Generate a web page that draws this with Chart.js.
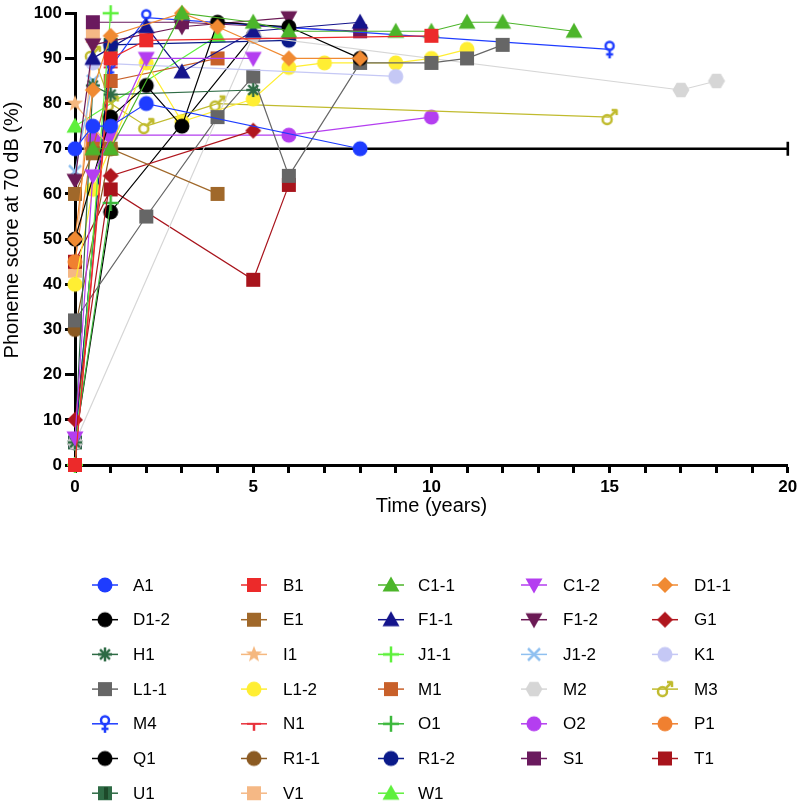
<!DOCTYPE html>
<html>
<head>
<meta charset="utf-8">
<script src="https://cdn.jsdelivr.net/npm/chart.js@4.4.1/dist/chart.umd.min.js"></script>
<style>
  html, body { margin: 0; padding: 0; background: #fff; }
  #wrap { position: relative; width: 797px; height: 807px; }
</style>
</head>
<body>
<div id="wrap"><canvas id="chart" width="797" height="807"></canvas></div>
<script>
// Phoneme score at 70 dB vs time, one line per ear.

const A1   = [[0, 70], [0.5, 75], [1, 75], [2, 80], [8, 70]];
const B1   = [[0, 0], [1, 90], [2, 94], [10, 95]];
const C1_1 = [[0.5, 70], [1, 70], [3, 100], [5, 98], [6, 96], [9, 96], [10, 96], [11, 98], [12, 98], [14, 96]];
const C1_2 = [[0, 6], [0.5, 64], [2, 90], [5, 90]];
const D1_1 = [[0, 50], [0.5, 83], [1, 95], [3, 100], [4, 97], [6, 90], [8, 90]];
const D1_2 = [[0, 50], [1, 77], [2, 84], [3, 75], [4, 98], [6, 97], [8, 90]];
const E1   = [[0, 60], [0.5, 69], [1, 70], [4, 60]];
const F1_1 = [[0.5, 90], [2, 97], [3, 87], [5, 96], [8, 98]];
const F1_2 = [[0, 63], [0.5, 93], [3, 97], [6, 99]];
const G1   = [[0, 10], [1, 64], [5, 74]];
const H1   = [[0, 5], [0.5, 84], [1, 82], [5, 83]];
const I1   = [[0, 80], [1, 70]];
const J1_1 = [[0, 0], [1, 100]];
const J1_2 = [[0, 65], [0.5, 85]];
const K1   = [[0.5, 89], [9, 86]];
const L1_1 = [[0, 32], [2, 55], [4, 77], [5, 86], [6, 64], [8, 89], [10, 89], [11, 90], [12, 93]];
const L1_2 = [[0, 40], [0.5, 61], [2, 89], [3, 76], [5, 81], [6, 88], [7, 89], [9, 89], [10, 90], [11, 92]];
const M1   = [[0.5, 70], [1, 85], [4, 90]];
const M2   = [[0, 5], [5, 95], [17, 83], [18, 85]];
const M3   = [[0.5, 91], [1, 80], [2, 75], [4, 80], [15, 77]];
const M4   = [[1, 88], [2, 99], [15, 92]];
const N1   = [[0, 0], [1, 88]];
const O1   = [[0, 5], [1, 58]];
const O2   = [[0.5, 72], [1, 73], [6, 73], [10, 77]];
const P1   = [[0, 45], [0.5, 72]];
const Q1   = [[0, 5], [1, 56], [5, 95]];
const R1_1 = [[0, 30], [1, 70]];
const R1_2 = [[0, 5], [1, 93], [6, 94]];
const S1   = [[0.5, 98], [3, 98], [8, 96]];
const T1   = [[0, 45], [1, 61], [5, 41], [6, 62]];
const U1   = [[0, 5], [1, 93]];
const V1   = [[0, 43], [0.5, 95]];
const W1   = [[0, 75], [4, 95]];

const NAMES = ["A1", "B1", "C1-1", "C1-2", "D1-1", "D1-2", "E1", "F1-1", "F1-2", "G1",
  "H1", "I1", "J1-1", "J1-2", "K1", "L1-1", "L1-2", "M1", "M2", "M3",
  "M4", "N1", "O1", "O2", "P1", "Q1", "R1-1", "R1-2", "S1", "T1",
  "U1", "V1", "W1"];
const SERIES = [A1, B1, C1_1, C1_2, D1_1, D1_2, E1, F1_1, F1_2, G1,
  H1, I1, J1_1, J1_2, K1, L1_1, L1_2, M1, M2, M3,
  M4, N1, O1, O2, P1, Q1, R1_1, R1_2, S1, T1,
  U1, V1, W1];

const X_TICKS = [0, 5, 10, 15, 20];
const Y_TICKS = [0, 10, 20, 30, 40, 50, 60, 70, 80, 90, 100];
const REF_LEVEL = 70;

// styling, same order as NAMES
const COLORS = ["#1e3cff", "#ec2a2a", "#4cb52a", "#b43ef0", "#f08a32", "#000000", "#a0682a", "#14148c", "#6b1a55", "#b0161e",
  "#2e6b45", "#f5b87f", "#5ef03c", "#8fc0f0", "#c5c8f5", "#666666", "#ffee33", "#c8602a", "#d6d6d6", "#c0bb2e",
  "#1e3cff", "#e8323c", "#3cb83c", "#b43ef0", "#f08030", "#000000", "#8b5a22", "#0a1a8a", "#6a1a5e", "#a8141c",
  "#2e6b45", "#f5b885", "#5ef03c"];
const SHAPES = ["circle", "square", "tri", "tridown", "diamond", "circle", "square", "tri", "tridown", "diamond",
  "asterisk", "star", "plus", "x", "circle", "square", "circle", "square", "hex", "male",
  "female", "tee", "plus", "circle", "circle", "circle", "circle", "circle", "square", "square",
  "usquare", "square", "tri"];

function marker(shape, color) {
  const c = document.createElement("canvas");
  c.width = c.height = 20;
  const g = c.getContext("2d");
  g.translate(10, 10);
  g.fillStyle = color;
  g.strokeStyle = color;
  g.lineWidth = 2.5;
  const poly = (pts) => {
    g.beginPath();
    pts.forEach(([px, py], i) => (i ? g.lineTo(px, py) : g.moveTo(px, py)));
    g.closePath();
    g.fill();
  };
  const seg = (x1, y1, x2, y2) => { g.beginPath(); g.moveTo(x1, y1); g.lineTo(x2, y2); g.stroke(); };
  switch (shape) {
    case "circle": g.beginPath(); g.arc(0, 0, 7.5, 0, Math.PI * 2); g.fill(); break;
    case "square": g.fillRect(-7, -7, 14, 14); break;
    case "usquare":
      g.fillRect(-7, -7, 14, 14);
      g.fillStyle = "#1d4a2a"; g.fillRect(-1, -6, 4, 12); break;
    case "tri": poly([[0, -8.5], [8.5, 6.5], [-8.5, 6.5]]); break;
    case "tridown": poly([[0, 8.5], [8.5, -6.5], [-8.5, -6.5]]); break;
    case "diamond": poly([[0, -8], [8, 0], [0, 8], [-8, 0]]); break;
    case "plus": seg(-8, 0, 8, 0); seg(0, -8, 0, 8); break;
    case "x": seg(-6, -6, 6, 6); seg(6, -6, -6, 6); break;
    case "asterisk":
      for (let k = 0; k < 4; k++) {
        const a = k * Math.PI / 4;
        seg(-7 * Math.cos(a), -7 * Math.sin(a), 7 * Math.cos(a), 7 * Math.sin(a));
      }
      break;
    case "star": {
      const pts = [];
      for (let k = 0; k < 10; k++) {
        const r = k % 2 ? 3.6 : 8.5;
        const a = -Math.PI / 2 + k * Math.PI / 5;
        pts.push([r * Math.cos(a), r * Math.sin(a)]);
      }
      poly(pts); break;
    }
    case "hex": {
      const pts = [];
      for (let k = 0; k < 6; k++) pts.push([8.5 * Math.cos(k * Math.PI / 3), 8.5 * Math.sin(k * Math.PI / 3)]);
      poly(pts); break;
    }
    case "female":
      g.beginPath(); g.arc(0, -3.5, 4, 0, Math.PI * 2); g.stroke();
      seg(0, 0.5, 0, 9); seg(-3.5, 5, 3.5, 5); break;
    case "male":
      g.beginPath(); g.arc(-2.5, 2.5, 4.5, 0, Math.PI * 2); g.stroke();
      seg(0.8, -0.8, 7, -7); seg(7.5, -7, 2, -7); seg(7, -7.5, 7, -2); break;
    case "tee": g.lineWidth = 2; seg(-7, 0, 7, 0); g.lineWidth = 2.5; seg(0, 0, 0, 7); break;
  }
  return c;
}

const MARKERS = SHAPES.map((s, i) => marker(s, COLORS[i]));

const datasets = SERIES.map((pts, i) => ({
  label: NAMES[i],
  data: pts.map(([x, y]) => ({ x, y })),
  showLine: true,
  borderColor: COLORS[i],
  backgroundColor: COLORS[i],
  borderWidth: 1.2,
  pointStyle: MARKERS[i],
  pointRadius: 8,
  pointHoverRadius: 8,
  tension: 0,
  clip: false,
}));

const FONT = '"Liberation Sans", Arial, Helvetica, sans-serif';
Chart.defaults.font.family = FONT;
Chart.defaults.color = "#000";

// legend grid: 5 columns
const LEG_MARK_X = [105, 254, 391, 534, 665];
const LEG_TEXT_X = [133, 283, 418, 563, 694];
const LEG_TOP = 585;
const LEG_STEP = 34.7;

const extras = {
  id: "extras",
  beforeDatasetsDraw(chart) {
    const { ctx, scales: { x, y } } = chart;
    const py = y.getPixelForValue(REF_LEVEL);
    const x0 = x.getPixelForValue(X_TICKS[0]);
    const x1 = x.getPixelForValue(X_TICKS[X_TICKS.length - 1]);
    ctx.save();
    ctx.strokeStyle = "#000";
    ctx.lineWidth = 2.6;
    ctx.beginPath();
    ctx.moveTo(x0, py); ctx.lineTo(x1, py);
    ctx.moveTo(x1, py - 7); ctx.lineTo(x1, py + 7);
    ctx.stroke();
    ctx.restore();
  },
  afterDraw(chart) {
    const { ctx, chartArea } = chart;
    ctx.save();
    ctx.fillStyle = "#000";
    // axis titles
    ctx.font = "20px " + FONT;
    ctx.textAlign = "center";
    ctx.textBaseline = "alphabetic";
    ctx.fillText("Time (years)", (chartArea.left + chartArea.right) / 2, 512);
    ctx.save();
    ctx.translate(18, 230);
    ctx.rotate(-Math.PI / 2);
    ctx.fillText("Phoneme score at 70 dB (%)", 0, 0);
    ctx.restore();

    // legend
    ctx.font = "17px " + FONT;
    ctx.textAlign = "left";
    ctx.textBaseline = "middle";
    NAMES.forEach((name, i) => {
      const col = i % 5, row = Math.floor(i / 5);
      const cx = LEG_MARK_X[col];
      const cy = LEG_TOP + row * LEG_STEP;
      ctx.strokeStyle = COLORS[i];
      ctx.lineWidth = 1.5;
      ctx.beginPath();
      ctx.moveTo(cx - 13, cy); ctx.lineTo(cx + 13, cy);
      ctx.stroke();
      const m = MARKERS[i];
      ctx.drawImage(m, cx - m.width / 2, cy - m.height / 2);
      ctx.fillStyle = "#000";
      ctx.fillText(name, LEG_TEXT_X[col], cy + 1);
    });
    ctx.restore();
  },
};

new Chart(document.getElementById("chart"), {
  type: "scatter",
  data: { datasets },
  options: {
    responsive: false,
    devicePixelRatio: 1,
    animation: false,
    layout: { padding: { left: 0, right: 0, top: 10, bottom: 0 } },
    plugins: { legend: { display: false }, tooltip: { enabled: false } },
    scales: {
      x: {
        type: "linear",
        position: "bottom",
        min: X_TICKS[0],
        max: X_TICKS[X_TICKS.length - 1],
        afterFit: (s) => { s.height = 807 - 465; s.paddingRight = 9; s.paddingLeft = 0; },
        ticks: {
          stepSize: 1,
          autoSkip: false,
          maxRotation: 0,
          padding: 4,
          font: { size: 17, weight: "bold" },
          callback: (v) => (X_TICKS.includes(v) ? v : ""),
        },
        grid: { drawOnChartArea: false, tickLength: 8, tickWidth: 3, tickColor: "#000" },
        border: { display: true, color: "#000", width: 3 },
      },
      y: {
        type: "linear",
        position: "left",
        min: Y_TICKS[0],
        max: Y_TICKS[Y_TICKS.length - 1],
        afterFit: (s) => { s.width = 75; },
        afterBuildTicks: (s) => { s.ticks = Y_TICKS.map((v) => ({ value: v })); },
        ticks: { padding: 3, font: { size: 17, weight: "bold" } },
        grid: { drawOnChartArea: false, tickLength: 10, tickWidth: 3, tickColor: "#000" },
        border: { display: true, color: "#000", width: 3 },
      },
    },
  },
  plugins: [extras],
});
</script>
</body>
</html>
